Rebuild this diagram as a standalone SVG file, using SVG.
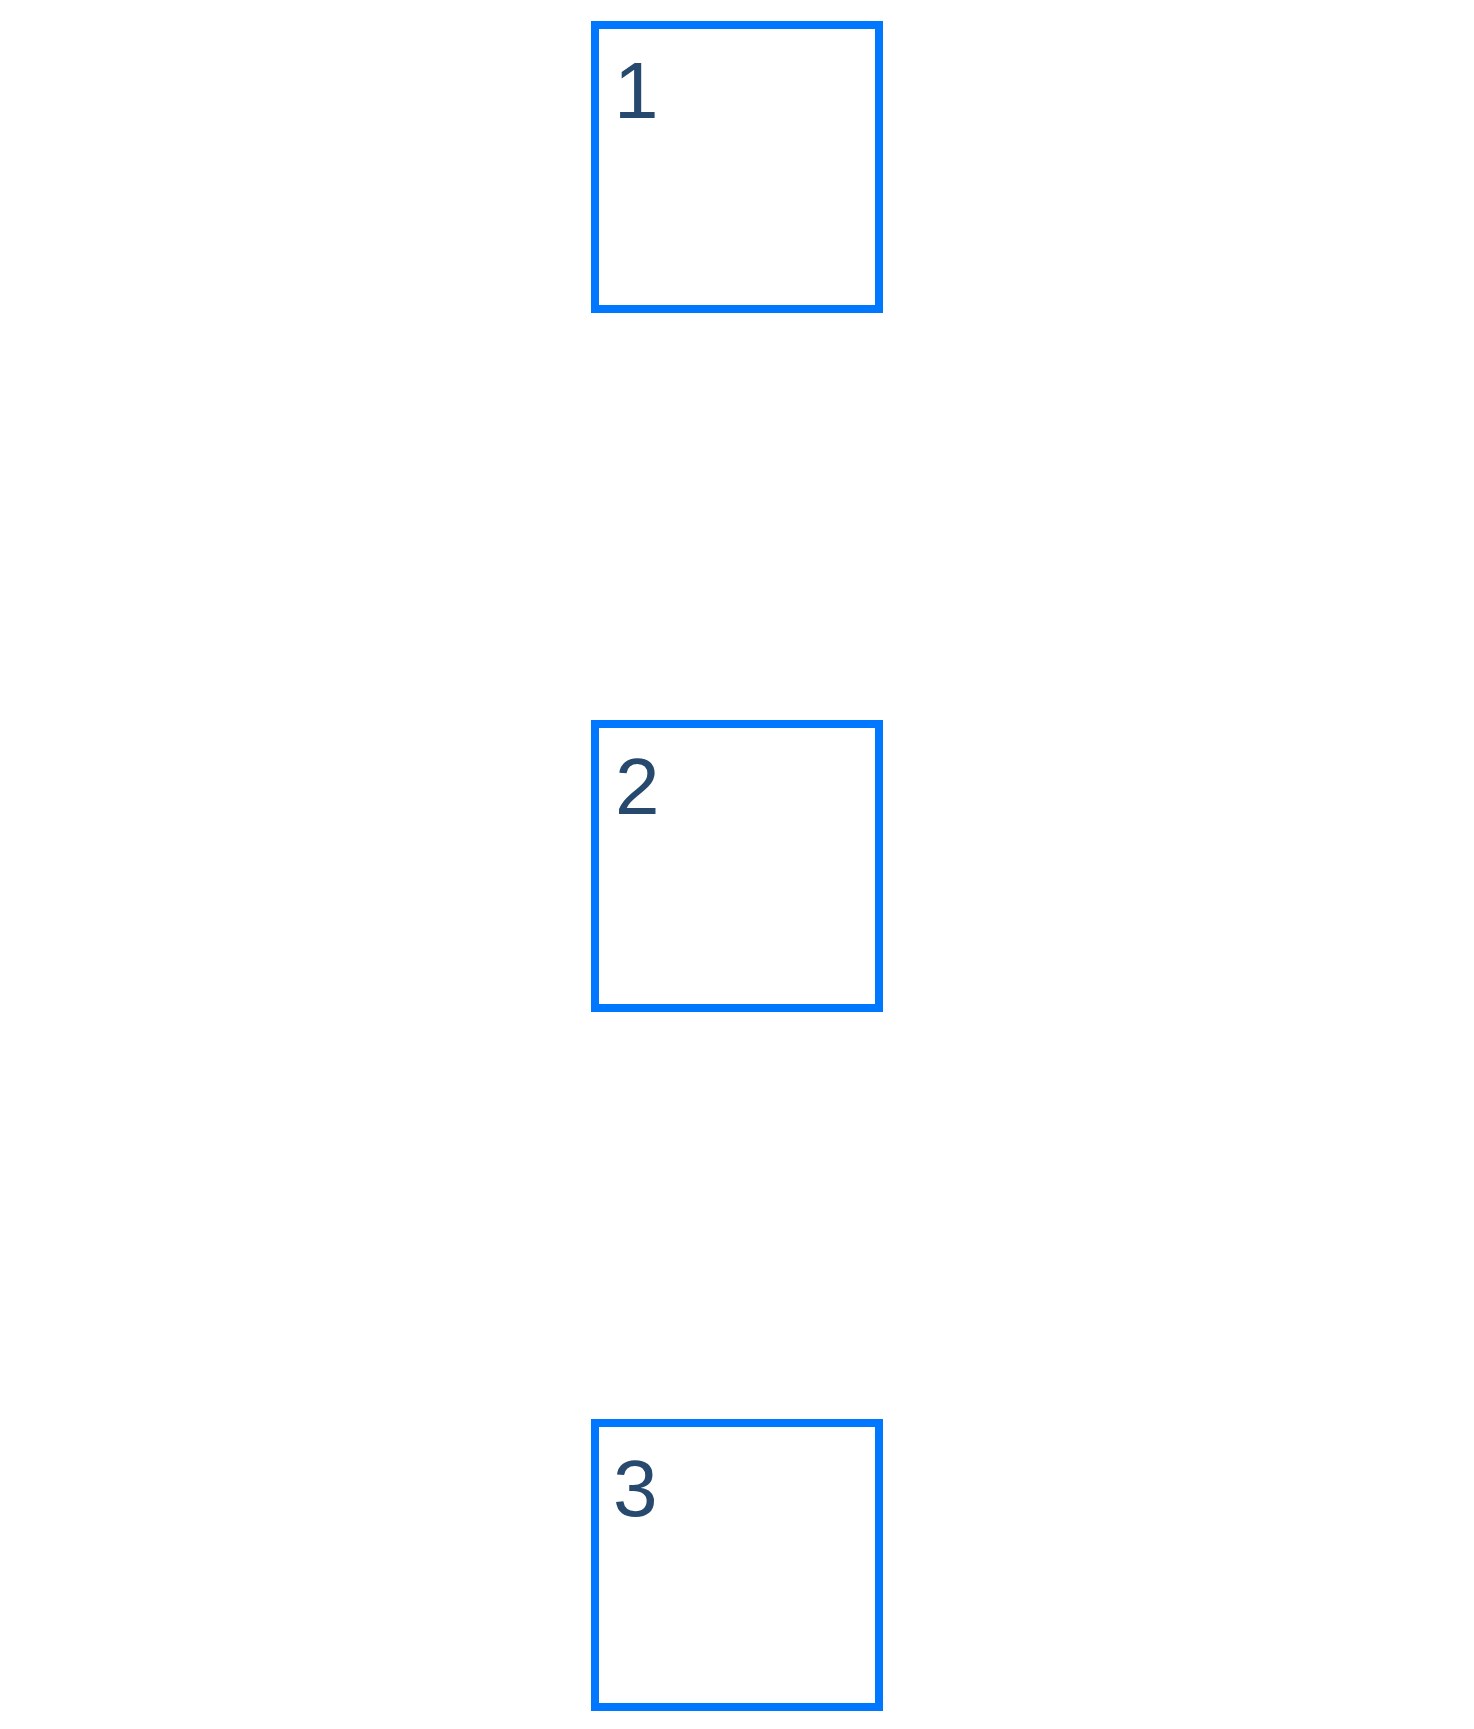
<svg xmlns="http://www.w3.org/2000/svg" width="1474" height="1729" viewBox="0 0 1474 1729">
<style>
.box{fill:#ffffff;stroke:#0077ff;stroke-width:8}
.lbl{font-family:"Liberation Sans",Arial,sans-serif;font-size:80px;fill:#26496d}
</style>
<rect x="0" y="0" width="1474" height="1729" fill="#ffffff"/>
<g id="connectors"></g>
<g id="node1">
<rect class="box" x="595" y="25" width="284" height="284"/>
<text class="lbl" x="614" y="118">1</text>
</g>
<g id="node2">
<rect class="box" x="595" y="724" width="284" height="284"/>
<text class="lbl" x="615" y="814">2</text>
</g>
<g id="node3">
<rect class="box" x="595" y="1423" width="284" height="284"/>
<text class="lbl" x="613" y="1516">3</text>
</g>
</svg>
